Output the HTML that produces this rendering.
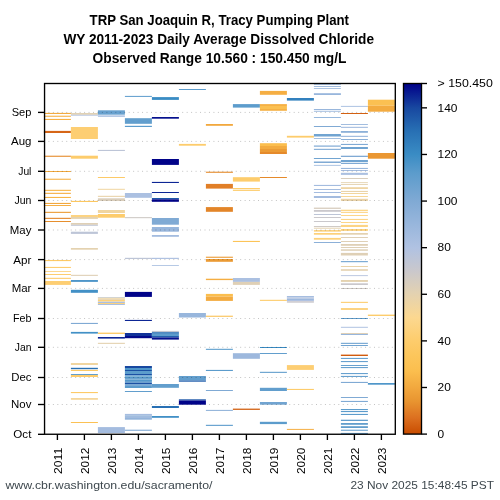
<!DOCTYPE html><html><head><meta charset="utf-8"><style>html,body{margin:0;padding:0;background:#fff;width:500px;height:500px;overflow:hidden}svg{display:block;will-change:transform}text{font-family:"Liberation Sans",sans-serif}</style></head><body>
<svg width="500" height="500" viewBox="0 0 500 500">
<rect width="500" height="500" fill="#fff"/>
<g>
<rect x="43.90" y="112.90" width="27.00" height="1.10" fill="#f3ab40"/>
<rect x="43.90" y="115.70" width="27.00" height="1.10" fill="#f6b145"/>
<rect x="43.90" y="118.90" width="27.00" height="1.10" fill="#f6b145"/>
<rect x="43.90" y="130.90" width="27.00" height="2.10" fill="#d66617"/>
<rect x="43.90" y="155.70" width="27.00" height="1.10" fill="#e58a2b"/>
<rect x="43.90" y="171.00" width="27.00" height="1.00" fill="#f3ab40"/>
<rect x="43.90" y="178.70" width="27.00" height="1.10" fill="#f6b145"/>
<rect x="43.90" y="189.80" width="27.00" height="1.10" fill="#f7b547"/>
<rect x="43.90" y="192.80" width="27.00" height="1.10" fill="#f5ae43"/>
<rect x="43.90" y="196.90" width="27.00" height="1.10" fill="#f7b547"/>
<rect x="43.90" y="202.90" width="27.00" height="1.10" fill="#f2a83e"/>
<rect x="43.90" y="205.00" width="27.00" height="1.00" fill="#f5ae43"/>
<rect x="43.90" y="211.80" width="27.00" height="1.10" fill="#eb9b35"/>
<rect x="43.90" y="217.80" width="27.00" height="1.10" fill="#e38529"/>
<rect x="43.90" y="221.00" width="27.00" height="1.00" fill="#e68f2e"/>
<rect x="43.90" y="260.00" width="27.00" height="1.10" fill="#fdca67"/>
<rect x="43.90" y="266.90" width="27.00" height="1.10" fill="#fdcd70"/>
<rect x="43.90" y="271.00" width="27.00" height="1.00" fill="#fcd890"/>
<rect x="43.90" y="274.00" width="27.00" height="1.00" fill="#fdcd70"/>
<rect x="43.90" y="277.80" width="27.00" height="1.10" fill="#fdcd70"/>
<rect x="43.90" y="281.00" width="27.00" height="3.90" fill="#fdce73"/>
<rect x="70.90" y="113.00" width="27.00" height="1.80" fill="#e1d1b3"/>
<rect x="70.90" y="114.80" width="27.00" height="0.90" fill="#b5c3de"/>
<rect x="70.90" y="127.00" width="27.00" height="12.00" fill="#fdce73"/>
<rect x="70.90" y="155.70" width="27.00" height="3.00" fill="#fdcc6c"/>
<rect x="70.90" y="200.90" width="27.00" height="1.10" fill="#fcc75f"/>
<rect x="70.90" y="215.00" width="27.00" height="2.00" fill="#fcd382"/>
<rect x="70.90" y="217.00" width="27.00" height="1.90" fill="#e4d2b0"/>
<rect x="70.90" y="223.00" width="27.00" height="1.80" fill="#dfd0b6"/>
<rect x="70.90" y="224.80" width="27.00" height="1.00" fill="#c0c6d5"/>
<rect x="70.90" y="231.70" width="27.00" height="2.20" fill="#bdc5d7"/>
<rect x="70.90" y="248.00" width="27.00" height="1.70" fill="#e4d2b0"/>
<rect x="70.90" y="274.80" width="27.00" height="1.10" fill="#dfd0b6"/>
<rect x="70.90" y="280.00" width="27.00" height="1.90" fill="#4f96c9"/>
<rect x="70.90" y="289.80" width="27.00" height="3.00" fill="#4290c6"/>
<rect x="70.90" y="322.90" width="27.00" height="1.10" fill="#80aad4"/>
<rect x="70.90" y="331.90" width="27.00" height="1.70" fill="#4290c6"/>
<rect x="70.90" y="363.00" width="27.00" height="2.00" fill="#f0d5a0"/>
<rect x="70.90" y="367.80" width="27.00" height="1.40" fill="#2870b4"/>
<rect x="70.90" y="369.90" width="27.00" height="1.10" fill="#fdca67"/>
<rect x="70.90" y="374.00" width="27.00" height="1.00" fill="#629ecd"/>
<rect x="70.90" y="375.00" width="27.00" height="2.00" fill="#fdcc6c"/>
<rect x="70.90" y="392.00" width="27.00" height="1.10" fill="#fdca67"/>
<rect x="70.90" y="398.00" width="27.00" height="1.80" fill="#f5d69a"/>
<rect x="70.90" y="422.00" width="27.00" height="1.00" fill="#fbc154"/>
<rect x="97.90" y="110.30" width="27.00" height="4.40" fill="#68a1cf"/>
<rect x="97.90" y="115.40" width="27.00" height="1.40" fill="#a4bcdf"/>
<rect x="97.90" y="149.90" width="27.00" height="1.10" fill="#bdc5d7"/>
<rect x="97.90" y="177.00" width="27.00" height="1.00" fill="#fdca67"/>
<rect x="97.90" y="188.80" width="27.00" height="1.00" fill="#f0d5a0"/>
<rect x="97.90" y="195.80" width="27.00" height="1.10" fill="#e9d3aa"/>
<rect x="97.90" y="198.30" width="27.00" height="2.70" fill="#dacebb"/>
<rect x="97.90" y="210.00" width="27.00" height="3.00" fill="#f0d5a0"/>
<rect x="97.90" y="214.00" width="27.00" height="3.70" fill="#fdcc6c"/>
<rect x="97.90" y="297.00" width="27.00" height="0.70" fill="#abc0e1"/>
<rect x="97.90" y="297.70" width="27.00" height="1.00" fill="#f7d796"/>
<rect x="97.90" y="298.70" width="27.00" height="1.10" fill="#dfd0b6"/>
<rect x="97.90" y="299.80" width="27.00" height="1.40" fill="#fcd27e"/>
<rect x="97.90" y="301.20" width="27.00" height="0.70" fill="#e9d3aa"/>
<rect x="97.90" y="301.90" width="27.00" height="1.10" fill="#abc0e1"/>
<rect x="97.90" y="303.00" width="27.00" height="1.00" fill="#fcd27e"/>
<rect x="97.90" y="304.00" width="27.00" height="1.00" fill="#abc0e1"/>
<rect x="97.90" y="332.60" width="27.00" height="1.40" fill="#fdcc6c"/>
<rect x="97.90" y="337.00" width="27.00" height="1.60" fill="#0d2695"/>
<rect x="97.90" y="342.80" width="27.00" height="1.10" fill="#e4d2b0"/>
<rect x="97.90" y="427.10" width="27.00" height="5.90" fill="#a4bcdf"/>
<rect x="124.90" y="95.90" width="27.00" height="1.00" fill="#5c9ccc"/>
<rect x="124.90" y="118.20" width="27.00" height="5.60" fill="#629ecd"/>
<rect x="124.90" y="125.80" width="27.00" height="1.20" fill="#5c9ccc"/>
<rect x="124.90" y="193.00" width="27.00" height="4.80" fill="#abc0e1"/>
<rect x="124.90" y="217.10" width="27.00" height="1.10" fill="#cfcac6"/>
<rect x="124.90" y="257.80" width="27.00" height="1.20" fill="#bdc5d7"/>
<rect x="124.90" y="291.90" width="27.00" height="5.00" fill="#010389"/>
<rect x="124.90" y="319.90" width="27.00" height="1.10" fill="#0d2695"/>
<rect x="124.90" y="333.00" width="27.00" height="3.00" fill="#113399"/>
<rect x="124.90" y="336.00" width="27.00" height="2.20" fill="#030a8b"/>
<rect x="124.90" y="366.00" width="27.00" height="2.00" fill="#1848a0"/>
<rect x="124.90" y="368.00" width="27.00" height="2.00" fill="#4f96c9"/>
<rect x="124.90" y="370.00" width="27.00" height="1.00" fill="#1b50a4"/>
<rect x="124.90" y="371.00" width="27.00" height="3.00" fill="#5c9ccc"/>
<rect x="124.90" y="374.00" width="27.00" height="1.20" fill="#1b50a4"/>
<rect x="124.90" y="375.20" width="27.00" height="1.30" fill="#68a1cf"/>
<rect x="124.90" y="376.50" width="27.00" height="1.50" fill="#5498ca"/>
<rect x="124.90" y="378.00" width="27.00" height="1.50" fill="#6ea3d0"/>
<rect x="124.90" y="379.50" width="27.00" height="1.50" fill="#5498ca"/>
<rect x="124.90" y="381.00" width="27.00" height="1.80" fill="#68a1cf"/>
<rect x="124.90" y="382.80" width="27.00" height="1.20" fill="#1b50a4"/>
<rect x="124.90" y="384.00" width="27.00" height="2.00" fill="#7aa8d3"/>
<rect x="124.90" y="386.00" width="27.00" height="2.00" fill="#5c9ccc"/>
<rect x="124.90" y="391.00" width="27.00" height="1.00" fill="#629ecd"/>
<rect x="124.90" y="413.90" width="27.00" height="1.60" fill="#a6bde0"/>
<rect x="124.90" y="415.50" width="27.00" height="1.30" fill="#8cb0d8"/>
<rect x="124.90" y="416.80" width="27.00" height="1.20" fill="#a2bbde"/>
<rect x="124.90" y="418.00" width="27.00" height="1.70" fill="#93b4da"/>
<rect x="124.90" y="429.70" width="27.00" height="1.10" fill="#80aad4"/>
<rect x="151.90" y="97.10" width="27.00" height="2.80" fill="#3a8cc4"/>
<rect x="151.90" y="117.00" width="27.00" height="1.70" fill="#06118e"/>
<rect x="151.90" y="159.00" width="27.00" height="5.90" fill="#010389"/>
<rect x="151.90" y="181.90" width="27.00" height="1.10" fill="#0d2695"/>
<rect x="151.90" y="192.00" width="27.00" height="1.00" fill="#0d2695"/>
<rect x="151.90" y="198.00" width="27.00" height="1.30" fill="#1e58a8"/>
<rect x="151.90" y="199.30" width="27.00" height="2.50" fill="#010389"/>
<rect x="151.90" y="218.00" width="27.00" height="6.70" fill="#80aad4"/>
<rect x="151.90" y="227.00" width="27.00" height="4.70" fill="#98b6dc"/>
<rect x="151.90" y="235.00" width="27.00" height="1.80" fill="#a4bcdf"/>
<rect x="151.90" y="257.80" width="27.00" height="1.20" fill="#b0c2e2"/>
<rect x="151.90" y="265.20" width="27.00" height="0.80" fill="#a4bcdf"/>
<rect x="151.90" y="330.90" width="27.00" height="1.30" fill="#c5c7d0"/>
<rect x="151.90" y="332.20" width="27.00" height="1.60" fill="#2870b4"/>
<rect x="151.90" y="333.80" width="27.00" height="2.20" fill="#5c9ccc"/>
<rect x="151.90" y="336.00" width="27.00" height="1.40" fill="#2260ac"/>
<rect x="151.90" y="337.40" width="27.00" height="2.20" fill="#06118e"/>
<rect x="151.90" y="384.00" width="27.00" height="3.80" fill="#629ecd"/>
<rect x="151.90" y="406.00" width="27.00" height="2.00" fill="#2870b4"/>
<rect x="151.90" y="416.00" width="27.00" height="1.80" fill="#4290c6"/>
<rect x="178.90" y="89.00" width="27.00" height="1.00" fill="#5c9ccc"/>
<rect x="178.90" y="143.90" width="27.00" height="1.80" fill="#fdcc6c"/>
<rect x="178.90" y="313.00" width="27.00" height="4.50" fill="#98b6dc"/>
<rect x="178.90" y="376.00" width="27.00" height="4.50" fill="#629ecd"/>
<rect x="178.90" y="380.50" width="27.00" height="1.20" fill="#205caa"/>
<rect x="178.90" y="399.30" width="27.00" height="1.20" fill="#1e58a8"/>
<rect x="178.90" y="400.50" width="27.00" height="4.20" fill="#010389"/>
<rect x="205.90" y="124.00" width="27.00" height="1.80" fill="#f2a83e"/>
<rect x="205.90" y="171.70" width="27.00" height="1.10" fill="#e58a2b"/>
<rect x="205.90" y="183.90" width="27.00" height="4.70" fill="#e17f27"/>
<rect x="205.90" y="207.10" width="27.00" height="4.70" fill="#e38529"/>
<rect x="205.90" y="256.70" width="27.00" height="1.10" fill="#eb9b35"/>
<rect x="205.90" y="259.00" width="27.00" height="2.80" fill="#eb9b35"/>
<rect x="205.90" y="278.70" width="27.00" height="1.40" fill="#f5ae43"/>
<rect x="205.90" y="293.90" width="27.00" height="2.60" fill="#fbbe4e"/>
<rect x="205.90" y="296.50" width="27.00" height="4.40" fill="#f3ab40"/>
<rect x="205.90" y="315.70" width="27.00" height="1.10" fill="#fbc154"/>
<rect x="205.90" y="348.80" width="27.00" height="1.00" fill="#4f96c9"/>
<rect x="205.90" y="369.90" width="27.00" height="1.10" fill="#5c9ccc"/>
<rect x="205.90" y="390.00" width="27.00" height="1.00" fill="#80aad4"/>
<rect x="205.90" y="409.90" width="27.00" height="1.00" fill="#8cb0d8"/>
<rect x="205.90" y="424.80" width="27.00" height="1.10" fill="#5c9ccc"/>
<rect x="232.90" y="104.10" width="27.00" height="3.50" fill="#5c9ccc"/>
<rect x="232.90" y="177.20" width="27.00" height="4.40" fill="#fdcc6c"/>
<rect x="232.90" y="188.00" width="27.00" height="1.20" fill="#fdcc6c"/>
<rect x="232.90" y="189.80" width="27.00" height="1.10" fill="#fdcc6c"/>
<rect x="232.90" y="240.90" width="27.00" height="1.10" fill="#fcc458"/>
<rect x="232.90" y="278.00" width="27.00" height="3.90" fill="#abc0e1"/>
<rect x="232.90" y="281.90" width="27.00" height="3.00" fill="#dfd0b6"/>
<rect x="232.90" y="353.20" width="27.00" height="5.60" fill="#9db8dd"/>
<rect x="232.90" y="408.60" width="27.00" height="1.30" fill="#d36112"/>
<rect x="259.90" y="90.90" width="27.00" height="3.90" fill="#f5ae43"/>
<rect x="259.90" y="104.10" width="27.00" height="1.90" fill="#f6b145"/>
<rect x="259.90" y="106.00" width="27.00" height="3.00" fill="#fbc052"/>
<rect x="259.90" y="109.00" width="27.00" height="1.80" fill="#f6b145"/>
<rect x="259.90" y="143.20" width="27.00" height="2.80" fill="#fbbe4e"/>
<rect x="259.90" y="146.00" width="27.00" height="3.00" fill="#f3ab40"/>
<rect x="259.90" y="149.00" width="27.00" height="3.00" fill="#eb9b35"/>
<rect x="259.90" y="152.00" width="27.00" height="2.00" fill="#e58a2b"/>
<rect x="259.90" y="177.00" width="27.00" height="1.00" fill="#e58a2b"/>
<rect x="259.90" y="299.80" width="27.00" height="1.10" fill="#fdcc6c"/>
<rect x="259.90" y="347.00" width="27.00" height="1.00" fill="#3a8cc4"/>
<rect x="259.90" y="353.00" width="27.00" height="1.00" fill="#629ecd"/>
<rect x="259.90" y="371.80" width="27.00" height="1.10" fill="#629ecd"/>
<rect x="259.90" y="387.80" width="27.00" height="3.20" fill="#629ecd"/>
<rect x="259.90" y="402.00" width="27.00" height="2.70" fill="#71a4d1"/>
<rect x="259.90" y="421.80" width="27.00" height="2.30" fill="#5c9ccc"/>
<rect x="286.90" y="98.00" width="27.00" height="2.60" fill="#3381be"/>
<rect x="286.90" y="135.80" width="27.00" height="1.80" fill="#fdcc6c"/>
<rect x="286.90" y="296.00" width="27.00" height="1.50" fill="#a6bde0"/>
<rect x="286.90" y="297.50" width="27.00" height="1.00" fill="#b5c3de"/>
<rect x="286.90" y="298.50" width="27.00" height="1.50" fill="#9db8dd"/>
<rect x="286.90" y="300.00" width="27.00" height="1.20" fill="#b0c2e2"/>
<rect x="286.90" y="301.20" width="27.00" height="1.50" fill="#cac8cc"/>
<rect x="286.90" y="365.10" width="27.00" height="4.80" fill="#fdce73"/>
<rect x="286.90" y="388.90" width="27.00" height="1.10" fill="#fdcc6c"/>
<rect x="286.90" y="428.90" width="27.00" height="1.00" fill="#f5ae43"/>
<rect x="313.90" y="84.00" width="27.00" height="0.80" fill="#98b6dc"/>
<rect x="313.90" y="86.00" width="27.00" height="0.90" fill="#98b6dc"/>
<rect x="313.90" y="88.00" width="27.00" height="0.80" fill="#98b6dc"/>
<rect x="313.90" y="93.20" width="27.00" height="1.80" fill="#98b6dc"/>
<rect x="313.90" y="109.00" width="27.00" height="1.00" fill="#98b6dc"/>
<rect x="313.90" y="110.80" width="27.00" height="0.90" fill="#98b6dc"/>
<rect x="313.90" y="117.00" width="27.00" height="0.90" fill="#8cb0d8"/>
<rect x="313.90" y="126.00" width="27.00" height="1.00" fill="#80aad4"/>
<rect x="313.90" y="134.00" width="27.00" height="2.50" fill="#71a4d1"/>
<rect x="313.90" y="138.00" width="27.00" height="0.80" fill="#8cb0d8"/>
<rect x="313.90" y="145.50" width="27.00" height="1.20" fill="#80aad4"/>
<rect x="313.90" y="148.80" width="27.00" height="1.10" fill="#80aad4"/>
<rect x="313.90" y="158.00" width="27.00" height="1.00" fill="#71a4d1"/>
<rect x="313.90" y="161.50" width="27.00" height="1.50" fill="#80aad4"/>
<rect x="313.90" y="164.90" width="27.00" height="0.80" fill="#98b6dc"/>
<rect x="313.90" y="184.90" width="27.00" height="1.10" fill="#a4bcdf"/>
<rect x="313.90" y="189.00" width="27.00" height="1.00" fill="#a4bcdf"/>
<rect x="313.90" y="192.00" width="27.00" height="1.00" fill="#a4bcdf"/>
<rect x="313.90" y="196.00" width="27.00" height="2.00" fill="#a4bcdf"/>
<rect x="313.90" y="207.60" width="27.00" height="1.30" fill="#d7cdbe"/>
<rect x="313.90" y="210.00" width="27.00" height="1.80" fill="#cac8cc"/>
<rect x="313.90" y="214.00" width="27.00" height="1.00" fill="#bdc5d7"/>
<rect x="313.90" y="217.00" width="27.00" height="1.00" fill="#cac8cc"/>
<rect x="313.90" y="221.00" width="27.00" height="1.00" fill="#cac8cc"/>
<rect x="313.90" y="226.00" width="27.00" height="1.00" fill="#cfcac6"/>
<rect x="313.90" y="227.70" width="27.00" height="1.00" fill="#e4d2b0"/>
<rect x="313.90" y="230.00" width="27.00" height="1.70" fill="#fcd485"/>
<rect x="313.90" y="233.00" width="27.00" height="1.70" fill="#fdd17a"/>
<rect x="313.90" y="237.90" width="27.00" height="1.80" fill="#fdd17a"/>
<rect x="313.90" y="242.00" width="27.00" height="1.00" fill="#8cb0d8"/>
<rect x="340.90" y="105.90" width="27.00" height="0.90" fill="#a4bcdf"/>
<rect x="340.90" y="113.00" width="27.00" height="1.00" fill="#d36112"/>
<rect x="340.90" y="124.00" width="27.00" height="0.90" fill="#98b6dc"/>
<rect x="340.90" y="126.80" width="27.00" height="1.10" fill="#a4bcdf"/>
<rect x="340.90" y="131.00" width="27.00" height="1.80" fill="#8cb0d8"/>
<rect x="340.90" y="135.80" width="27.00" height="1.10" fill="#98b6dc"/>
<rect x="340.90" y="139.00" width="27.00" height="1.00" fill="#8cb0d8"/>
<rect x="340.90" y="143.90" width="27.00" height="1.10" fill="#80aad4"/>
<rect x="340.90" y="147.00" width="27.00" height="2.00" fill="#71a4d1"/>
<rect x="340.90" y="155.70" width="27.00" height="1.30" fill="#80aad4"/>
<rect x="340.90" y="160.00" width="27.00" height="2.20" fill="#71a4d1"/>
<rect x="340.90" y="163.00" width="27.00" height="1.00" fill="#80aad4"/>
<rect x="340.90" y="167.90" width="27.00" height="1.10" fill="#98b6dc"/>
<rect x="340.90" y="170.00" width="27.00" height="1.00" fill="#a4bcdf"/>
<rect x="340.90" y="172.80" width="27.00" height="2.10" fill="#abc0e1"/>
<rect x="340.90" y="178.00" width="27.00" height="1.00" fill="#d7cdbe"/>
<rect x="340.90" y="182.00" width="27.00" height="0.80" fill="#e4d2b0"/>
<rect x="340.90" y="183.90" width="27.00" height="1.00" fill="#e4d2b0"/>
<rect x="340.90" y="187.20" width="27.00" height="1.80" fill="#eed4a3"/>
<rect x="340.90" y="190.90" width="27.00" height="1.10" fill="#e9d3aa"/>
<rect x="340.90" y="193.00" width="27.00" height="1.00" fill="#f2d69d"/>
<rect x="340.90" y="196.00" width="27.00" height="1.00" fill="#f7d796"/>
<rect x="340.90" y="198.80" width="27.00" height="2.20" fill="#e9d3aa"/>
<rect x="340.90" y="209.70" width="27.00" height="1.30" fill="#fcd689"/>
<rect x="340.90" y="211.80" width="27.00" height="1.10" fill="#fcd485"/>
<rect x="340.90" y="215.00" width="27.00" height="1.00" fill="#fcd689"/>
<rect x="340.90" y="218.90" width="27.00" height="1.10" fill="#fcd485"/>
<rect x="340.90" y="222.00" width="27.00" height="1.00" fill="#fcd689"/>
<rect x="340.90" y="224.90" width="27.00" height="2.10" fill="#fcd485"/>
<rect x="340.90" y="229.00" width="27.00" height="1.90" fill="#fcd27e"/>
<rect x="340.90" y="233.00" width="27.00" height="1.70" fill="#e4d2b0"/>
<rect x="340.90" y="237.00" width="27.00" height="1.00" fill="#dfd0b6"/>
<rect x="340.90" y="241.00" width="27.00" height="1.00" fill="#dfd0b6"/>
<rect x="340.90" y="244.00" width="27.00" height="1.80" fill="#dfd0b6"/>
<rect x="340.90" y="247.00" width="27.00" height="1.00" fill="#dfd0b6"/>
<rect x="340.90" y="249.30" width="27.00" height="1.50" fill="#dfd0b6"/>
<rect x="340.90" y="252.90" width="27.00" height="2.60" fill="#dfd0b6"/>
<rect x="340.90" y="261.10" width="27.00" height="1.10" fill="#71a4d1"/>
<rect x="340.90" y="266.00" width="27.00" height="1.00" fill="#e9d3aa"/>
<rect x="340.90" y="269.20" width="27.00" height="1.60" fill="#e4d2b0"/>
<rect x="340.90" y="275.20" width="27.00" height="0.90" fill="#b5c3de"/>
<rect x="340.90" y="280.00" width="27.00" height="1.90" fill="#e4d2b0"/>
<rect x="340.90" y="283.30" width="27.00" height="1.70" fill="#cac8cc"/>
<rect x="340.90" y="288.00" width="27.00" height="1.00" fill="#cfcac6"/>
<rect x="340.90" y="301.80" width="27.00" height="1.20" fill="#fdd17a"/>
<rect x="340.90" y="308.00" width="27.00" height="2.00" fill="#fcd382"/>
<rect x="340.90" y="318.00" width="27.00" height="1.00" fill="#629ecd"/>
<rect x="340.90" y="326.80" width="27.00" height="1.00" fill="#b0c2e2"/>
<rect x="340.90" y="333.00" width="27.00" height="1.00" fill="#dfd0b6"/>
<rect x="340.90" y="334.00" width="27.00" height="1.00" fill="#98b6dc"/>
<rect x="340.90" y="342.80" width="27.00" height="1.10" fill="#71a4d1"/>
<rect x="340.90" y="345.00" width="27.00" height="1.00" fill="#71a4d1"/>
<rect x="340.90" y="354.60" width="27.00" height="1.40" fill="#d15b0e"/>
<rect x="340.90" y="357.90" width="27.00" height="1.10" fill="#68a1cf"/>
<rect x="340.90" y="361.00" width="27.00" height="1.10" fill="#68a1cf"/>
<rect x="340.90" y="365.00" width="27.00" height="1.00" fill="#68a1cf"/>
<rect x="340.90" y="367.00" width="27.00" height="1.10" fill="#68a1cf"/>
<rect x="340.90" y="373.00" width="27.00" height="1.10" fill="#68a1cf"/>
<rect x="340.90" y="375.90" width="27.00" height="1.10" fill="#68a1cf"/>
<rect x="340.90" y="381.90" width="27.00" height="1.10" fill="#80aad4"/>
<rect x="340.90" y="397.00" width="27.00" height="1.00" fill="#80aad4"/>
<rect x="340.90" y="400.90" width="27.00" height="1.10" fill="#80aad4"/>
<rect x="340.90" y="409.00" width="27.00" height="1.00" fill="#5c9ccc"/>
<rect x="340.90" y="410.90" width="27.00" height="1.20" fill="#5c9ccc"/>
<rect x="340.90" y="413.90" width="27.00" height="1.10" fill="#5c9ccc"/>
<rect x="340.90" y="419.70" width="27.00" height="1.30" fill="#629ecd"/>
<rect x="340.90" y="423.00" width="27.00" height="1.80" fill="#629ecd"/>
<rect x="340.90" y="426.20" width="27.00" height="1.80" fill="#629ecd"/>
<rect x="340.90" y="429.70" width="27.00" height="1.10" fill="#68a1cf"/>
<rect x="340.90" y="432.90" width="27.00" height="1.10" fill="#68a1cf"/>
<rect x="367.90" y="99.70" width="27.00" height="6.00" fill="#fbc052"/>
<rect x="367.90" y="105.70" width="27.00" height="6.00" fill="#f3ab40"/>
<rect x="367.90" y="153.00" width="27.00" height="5.70" fill="#ea9732"/>
<rect x="367.90" y="314.60" width="27.00" height="1.40" fill="#fdcc6c"/>
<rect x="367.90" y="383.00" width="27.00" height="1.70" fill="#4f96c9"/>
</g>
<line x1="48.4" x2="394.3" y1="404.50" y2="404.50" stroke="#000" stroke-opacity="0.24" stroke-width="1.0" stroke-dasharray="1 3.46"/>
<line x1="48.4" x2="394.3" y1="377.50" y2="377.50" stroke="#000" stroke-opacity="0.24" stroke-width="1.0" stroke-dasharray="1 3.46"/>
<line x1="48.4" x2="394.3" y1="347.30" y2="347.30" stroke="#000" stroke-opacity="0.24" stroke-width="1.0" stroke-dasharray="1 3.46"/>
<line x1="48.4" x2="394.3" y1="318.50" y2="318.50" stroke="#000" stroke-opacity="0.24" stroke-width="1.0" stroke-dasharray="1 3.46"/>
<line x1="48.4" x2="394.3" y1="288.40" y2="288.40" stroke="#000" stroke-opacity="0.24" stroke-width="1.0" stroke-dasharray="1 3.46"/>
<line x1="48.4" x2="394.3" y1="259.60" y2="259.60" stroke="#000" stroke-opacity="0.24" stroke-width="1.0" stroke-dasharray="1 3.46"/>
<line x1="48.4" x2="394.3" y1="230.00" y2="230.00" stroke="#000" stroke-opacity="0.24" stroke-width="1.0" stroke-dasharray="1 3.46"/>
<line x1="48.4" x2="394.3" y1="200.50" y2="200.50" stroke="#000" stroke-opacity="0.24" stroke-width="1.0" stroke-dasharray="1 3.46"/>
<line x1="48.4" x2="394.3" y1="171.30" y2="171.30" stroke="#000" stroke-opacity="0.24" stroke-width="1.0" stroke-dasharray="1 3.46"/>
<line x1="48.4" x2="394.3" y1="141.40" y2="141.40" stroke="#000" stroke-opacity="0.24" stroke-width="1.0" stroke-dasharray="1 3.46"/>
<line x1="48.4" x2="394.3" y1="112.40" y2="112.40" stroke="#000" stroke-opacity="0.24" stroke-width="1.0" stroke-dasharray="1 3.46"/>
<rect x="44.55" y="83.50" width="350.75" height="350.75" fill="none" stroke="#000" stroke-width="1.35"/>
<line x1="38" x2="44.55" y1="434.30" y2="434.30" stroke="#000" stroke-width="1.35"/>
<text x="13.33" y="438.20" font-size="11.20" fill="#000" textLength="18.06" lengthAdjust="spacingAndGlyphs">Oct</text>
<line x1="38" x2="44.55" y1="404.50" y2="404.50" stroke="#000" stroke-width="1.35"/>
<text x="11.00" y="408.40" font-size="11.20" fill="#000" textLength="20.40" lengthAdjust="spacingAndGlyphs">Nov</text>
<line x1="38" x2="44.55" y1="377.50" y2="377.50" stroke="#000" stroke-width="1.35"/>
<text x="11.18" y="381.40" font-size="11.20" fill="#000" textLength="20.22" lengthAdjust="spacingAndGlyphs">Dec</text>
<line x1="38" x2="44.55" y1="347.30" y2="347.30" stroke="#000" stroke-width="1.35"/>
<text x="14.74" y="351.20" font-size="11.20" fill="#000" textLength="16.66" lengthAdjust="spacingAndGlyphs">Jan</text>
<line x1="38" x2="44.55" y1="318.50" y2="318.50" stroke="#000" stroke-width="1.35"/>
<text x="12.89" y="322.40" font-size="11.20" fill="#000" textLength="18.51" lengthAdjust="spacingAndGlyphs">Feb</text>
<line x1="38" x2="44.55" y1="288.40" y2="288.40" stroke="#000" stroke-width="1.35"/>
<text x="11.67" y="292.30" font-size="11.20" fill="#000" textLength="19.73" lengthAdjust="spacingAndGlyphs">Mar</text>
<line x1="38" x2="44.55" y1="259.60" y2="259.60" stroke="#000" stroke-width="1.35"/>
<text x="13.31" y="263.50" font-size="11.20" fill="#000" textLength="18.09" lengthAdjust="spacingAndGlyphs">Apr</text>
<line x1="38" x2="44.55" y1="230.00" y2="230.00" stroke="#000" stroke-width="1.35"/>
<text x="9.80" y="233.90" font-size="11.20" fill="#000" textLength="21.60" lengthAdjust="spacingAndGlyphs">May</text>
<line x1="38" x2="44.55" y1="200.50" y2="200.50" stroke="#000" stroke-width="1.35"/>
<text x="14.52" y="204.40" font-size="11.20" fill="#000" textLength="16.88" lengthAdjust="spacingAndGlyphs">Jun</text>
<line x1="38" x2="44.55" y1="171.30" y2="171.30" stroke="#000" stroke-width="1.35"/>
<text x="18.24" y="175.20" font-size="11.20" fill="#000" textLength="13.16" lengthAdjust="spacingAndGlyphs">Jul</text>
<line x1="38" x2="44.55" y1="141.40" y2="141.40" stroke="#000" stroke-width="1.35"/>
<text x="10.99" y="145.30" font-size="11.20" fill="#000" textLength="20.41" lengthAdjust="spacingAndGlyphs">Aug</text>
<line x1="38" x2="44.55" y1="112.40" y2="112.40" stroke="#000" stroke-width="1.35"/>
<text x="11.70" y="116.30" font-size="11.20" fill="#000" textLength="19.70" lengthAdjust="spacingAndGlyphs">Sep</text>
<line x1="57.40" x2="57.40" y1="434.25" y2="440" stroke="#000" stroke-width="1.35"/>
<text transform="translate(61.90,474) rotate(-90)" x="0.00" y="0.00" font-size="11.20" fill="#000" textLength="26.30" lengthAdjust="spacingAndGlyphs">2011</text>
<line x1="84.40" x2="84.40" y1="434.25" y2="440" stroke="#000" stroke-width="1.35"/>
<text transform="translate(88.90,474) rotate(-90)" x="0.00" y="0.00" font-size="11.20" fill="#000" textLength="26.30" lengthAdjust="spacingAndGlyphs">2012</text>
<line x1="111.40" x2="111.40" y1="434.25" y2="440" stroke="#000" stroke-width="1.35"/>
<text transform="translate(115.90,474) rotate(-90)" x="0.00" y="0.00" font-size="11.20" fill="#000" textLength="26.30" lengthAdjust="spacingAndGlyphs">2013</text>
<line x1="138.40" x2="138.40" y1="434.25" y2="440" stroke="#000" stroke-width="1.35"/>
<text transform="translate(142.90,474) rotate(-90)" x="0.00" y="0.00" font-size="11.20" fill="#000" textLength="26.30" lengthAdjust="spacingAndGlyphs">2014</text>
<line x1="165.40" x2="165.40" y1="434.25" y2="440" stroke="#000" stroke-width="1.35"/>
<text transform="translate(169.90,474) rotate(-90)" x="0.00" y="0.00" font-size="11.20" fill="#000" textLength="26.30" lengthAdjust="spacingAndGlyphs">2015</text>
<line x1="192.40" x2="192.40" y1="434.25" y2="440" stroke="#000" stroke-width="1.35"/>
<text transform="translate(196.90,474) rotate(-90)" x="0.00" y="0.00" font-size="11.20" fill="#000" textLength="26.30" lengthAdjust="spacingAndGlyphs">2016</text>
<line x1="219.40" x2="219.40" y1="434.25" y2="440" stroke="#000" stroke-width="1.35"/>
<text transform="translate(223.90,474) rotate(-90)" x="0.00" y="0.00" font-size="11.20" fill="#000" textLength="26.30" lengthAdjust="spacingAndGlyphs">2017</text>
<line x1="246.40" x2="246.40" y1="434.25" y2="440" stroke="#000" stroke-width="1.35"/>
<text transform="translate(250.90,474) rotate(-90)" x="0.00" y="0.00" font-size="11.20" fill="#000" textLength="26.30" lengthAdjust="spacingAndGlyphs">2018</text>
<line x1="273.40" x2="273.40" y1="434.25" y2="440" stroke="#000" stroke-width="1.35"/>
<text transform="translate(277.90,474) rotate(-90)" x="0.00" y="0.00" font-size="11.20" fill="#000" textLength="26.30" lengthAdjust="spacingAndGlyphs">2019</text>
<line x1="300.40" x2="300.40" y1="434.25" y2="440" stroke="#000" stroke-width="1.35"/>
<text transform="translate(304.90,474) rotate(-90)" x="0.00" y="0.00" font-size="11.20" fill="#000" textLength="26.30" lengthAdjust="spacingAndGlyphs">2020</text>
<line x1="327.40" x2="327.40" y1="434.25" y2="440" stroke="#000" stroke-width="1.35"/>
<text transform="translate(331.90,474) rotate(-90)" x="0.00" y="0.00" font-size="11.20" fill="#000" textLength="26.30" lengthAdjust="spacingAndGlyphs">2021</text>
<line x1="354.40" x2="354.40" y1="434.25" y2="440" stroke="#000" stroke-width="1.35"/>
<text transform="translate(358.90,474) rotate(-90)" x="0.00" y="0.00" font-size="11.20" fill="#000" textLength="26.30" lengthAdjust="spacingAndGlyphs">2022</text>
<line x1="381.40" x2="381.40" y1="434.25" y2="440" stroke="#000" stroke-width="1.35"/>
<text transform="translate(385.90,474) rotate(-90)" x="0.00" y="0.00" font-size="11.20" fill="#000" textLength="26.30" lengthAdjust="spacingAndGlyphs">2023</text>
<defs><linearGradient id="cb" x1="0" y1="1" x2="0" y2="0">
<stop offset="0.0000" stop-color="#c84c00"/>
<stop offset="0.0465" stop-color="#dc7020"/>
<stop offset="0.0931" stop-color="#e89430"/>
<stop offset="0.1329" stop-color="#f2a83e"/>
<stop offset="0.1795" stop-color="#fbbe4e"/>
<stop offset="0.2260" stop-color="#fcc65c"/>
<stop offset="0.2659" stop-color="#fdcc6c"/>
<stop offset="0.3323" stop-color="#fcd890"/>
<stop offset="0.3988" stop-color="#e4d2b0"/>
<stop offset="0.4653" stop-color="#cac8cc"/>
<stop offset="0.5317" stop-color="#b0c2e2"/>
<stop offset="0.5982" stop-color="#98b6dc"/>
<stop offset="0.6647" stop-color="#80aad4"/>
<stop offset="0.7444" stop-color="#5c9ccc"/>
<stop offset="0.7976" stop-color="#3a8cc4"/>
<stop offset="0.8641" stop-color="#2870b4"/>
<stop offset="0.9305" stop-color="#1848a0"/>
<stop offset="1.0000" stop-color="#000088"/>
</linearGradient></defs>
<rect x="403.50" y="83.50" width="18.00" height="350.60" fill="url(#cb)" stroke="#000" stroke-width="1.35"/>
<line x1="421.50" x2="427" y1="83.50" y2="83.50" stroke="#000" stroke-width="1.35"/>
<text x="437.50" y="87.30" font-size="11.00" fill="#000" textLength="55.29" lengthAdjust="spacingAndGlyphs">&gt; 150.450</text>
<line x1="421.50" x2="427" y1="107.85" y2="107.85" stroke="#000" stroke-width="1.35"/>
<text x="437.50" y="111.65" font-size="11.00" fill="#000" textLength="19.95" lengthAdjust="spacingAndGlyphs">140</text>
<line x1="421.50" x2="427" y1="154.46" y2="154.46" stroke="#000" stroke-width="1.35"/>
<text x="437.50" y="158.26" font-size="11.00" fill="#000" textLength="19.95" lengthAdjust="spacingAndGlyphs">120</text>
<line x1="421.50" x2="427" y1="201.07" y2="201.07" stroke="#000" stroke-width="1.35"/>
<text x="437.50" y="204.87" font-size="11.00" fill="#000" textLength="19.95" lengthAdjust="spacingAndGlyphs">100</text>
<line x1="421.50" x2="427" y1="247.67" y2="247.67" stroke="#000" stroke-width="1.35"/>
<text x="437.50" y="251.47" font-size="11.00" fill="#000" textLength="13.30" lengthAdjust="spacingAndGlyphs">80</text>
<line x1="421.50" x2="427" y1="294.28" y2="294.28" stroke="#000" stroke-width="1.35"/>
<text x="437.50" y="298.08" font-size="11.00" fill="#000" textLength="13.30" lengthAdjust="spacingAndGlyphs">60</text>
<line x1="421.50" x2="427" y1="340.89" y2="340.89" stroke="#000" stroke-width="1.35"/>
<text x="437.50" y="344.69" font-size="11.00" fill="#000" textLength="13.30" lengthAdjust="spacingAndGlyphs">40</text>
<line x1="421.50" x2="427" y1="387.49" y2="387.49" stroke="#000" stroke-width="1.35"/>
<text x="437.50" y="391.29" font-size="11.00" fill="#000" textLength="13.30" lengthAdjust="spacingAndGlyphs">20</text>
<line x1="421.50" x2="427" y1="434.10" y2="434.10" stroke="#000" stroke-width="1.35"/>
<text x="437.50" y="437.90" font-size="11.00" fill="#000" textLength="6.65" lengthAdjust="spacingAndGlyphs">0</text>
<text x="89.60" y="24.70" font-size="14.00" font-weight="bold" fill="#000" textLength="259.40" lengthAdjust="spacingAndGlyphs">TRP San Joaquin R, Tracy Pumping Plant</text>
<text x="63.40" y="44.30" font-size="14.00" font-weight="bold" fill="#000" textLength="310.59" lengthAdjust="spacingAndGlyphs">WY 2011-2023 Daily Average Dissolved Chloride</text>
<text x="92.60" y="62.70" font-size="14.00" font-weight="bold" fill="#000" textLength="253.80" lengthAdjust="spacingAndGlyphs">Observed Range 10.560 : 150.450 mg/L</text>
<text x="5.42" y="488.80" font-size="11.50" fill="#3e484e" textLength="207.07" lengthAdjust="spacingAndGlyphs">www.cbr.washington.edu/sacramento/</text>
<text x="350.50" y="488.80" font-size="11.50" fill="#3e484e" textLength="143.50" lengthAdjust="spacingAndGlyphs">23 Nov 2025 15:48:45 PST</text>
</svg></body></html>
